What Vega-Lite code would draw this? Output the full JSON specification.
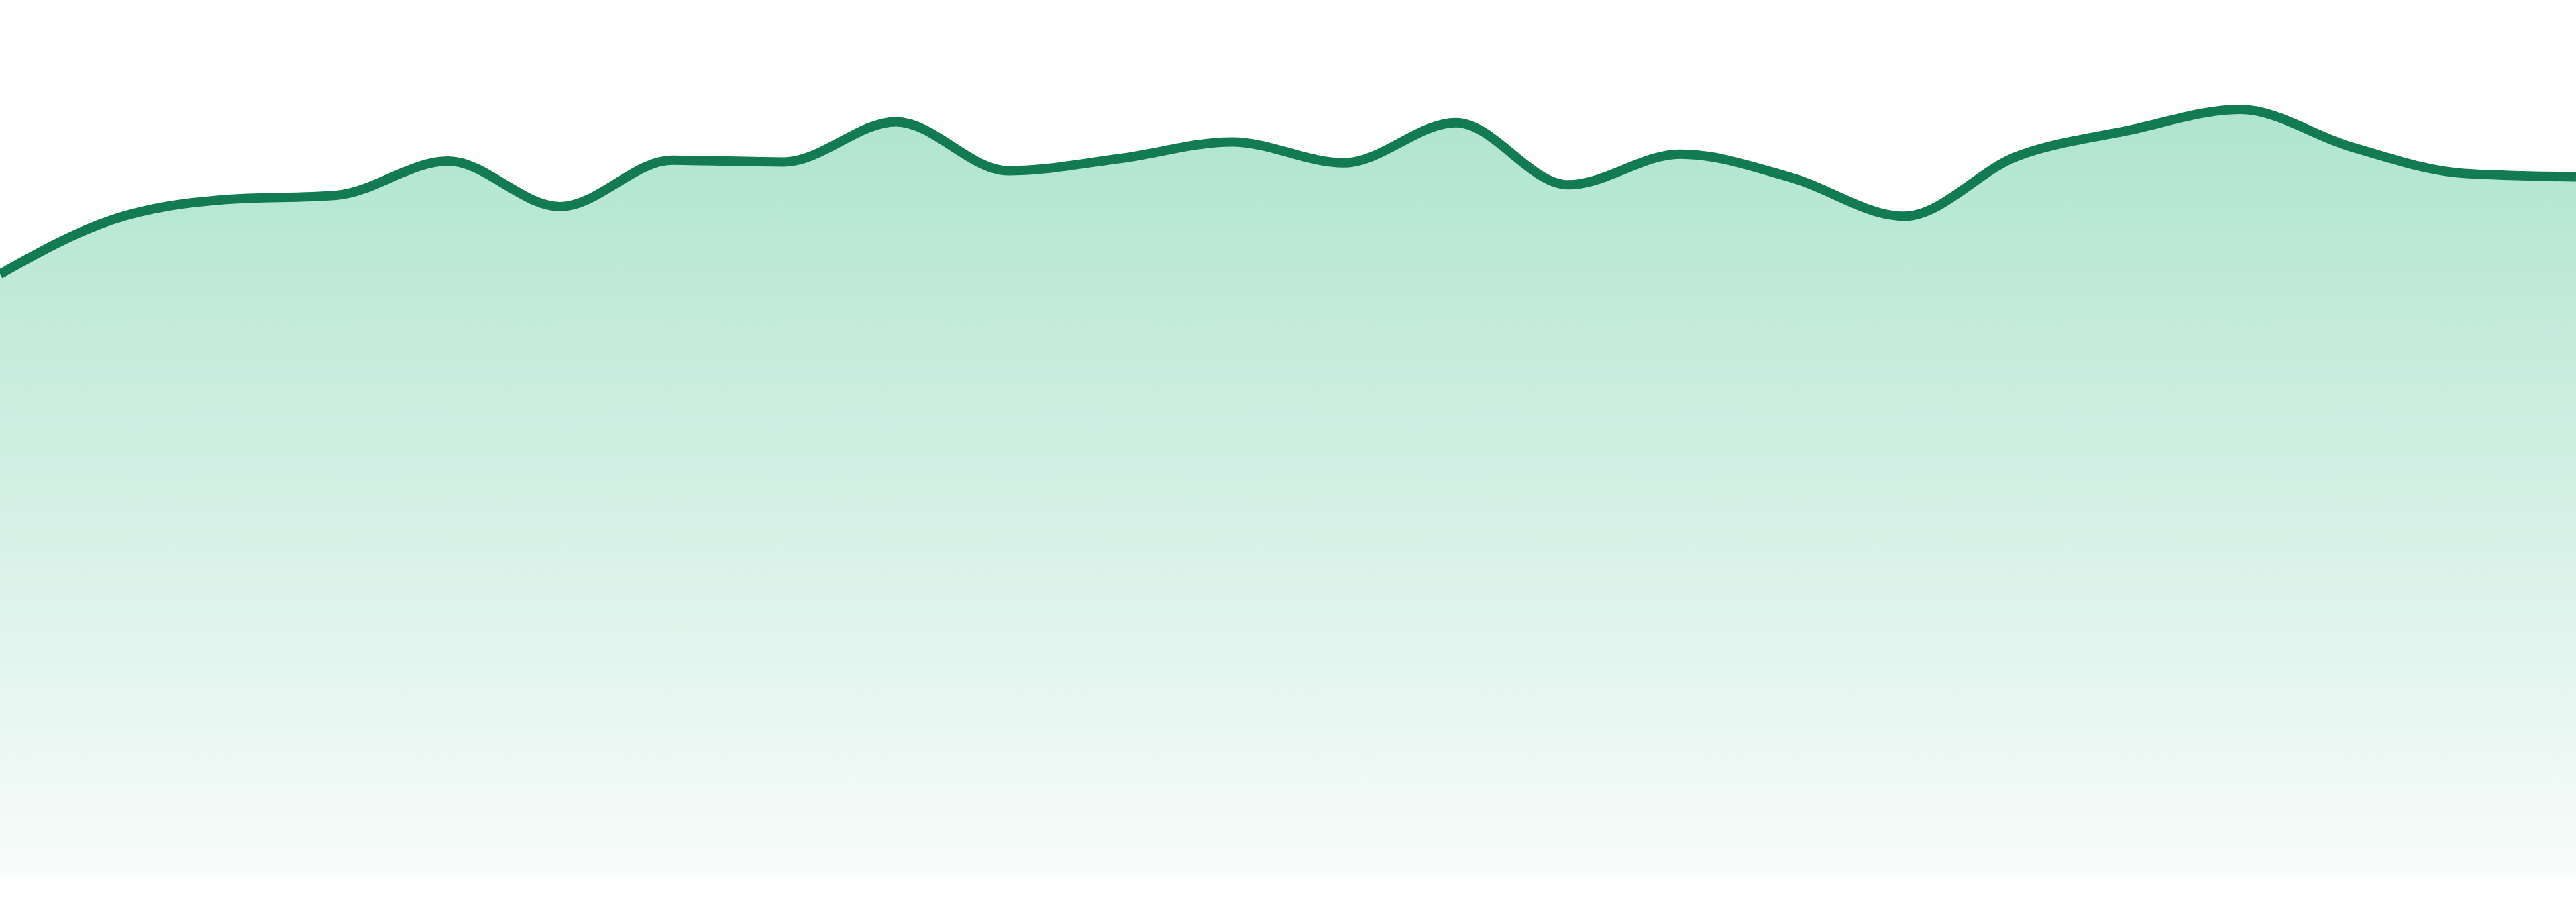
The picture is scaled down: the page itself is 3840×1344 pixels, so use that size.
{
  "$schema": "https://vega.github.io/schema/vega-lite/v6.json",
  "width": 3840,
  "height": 1344,
  "autosize": {"type": "none"},
  "padding": 0,
  "background": "#ffffff",
  "config": {"view": {"stroke": null}},
  "data": {
    "values": [
      {"t": 0, "value": 68.7},
      {"t": 1, "value": 74.9},
      {"t": 2, "value": 77.2},
      {"t": 3, "value": 77.7},
      {"t": 4, "value": 81.6},
      {"t": 5, "value": 76.4},
      {"t": 6, "value": 81.7},
      {"t": 7, "value": 81.5},
      {"t": 8, "value": 86.1},
      {"t": 9, "value": 80.5},
      {"t": 10, "value": 81.9},
      {"t": 11, "value": 83.8},
      {"t": 12, "value": 81.4},
      {"t": 13, "value": 86.0},
      {"t": 14, "value": 78.9},
      {"t": 15, "value": 82.4},
      {"t": 16, "value": 79.7},
      {"t": 17, "value": 75.3},
      {"t": 18, "value": 82.1},
      {"t": 19, "value": 85.1},
      {"t": 20, "value": 87.5},
      {"t": 21, "value": 83.2},
      {"t": 22, "value": 80.2},
      {"t": 23, "value": 79.8}
    ]
  },
  "encoding": {
    "x": {
      "field": "t",
      "type": "quantitative",
      "scale": {"domain": [0, 23], "nice": false, "zero": false},
      "axis": null
    },
    "y": {
      "field": "value",
      "type": "quantitative",
      "scale": {"domain": [-2.99, 100], "nice": false, "zero": false},
      "axis": null
    }
  },
  "layer": [
    {
      "mark": {
        "type": "area",
        "interpolate": "monotone",
        "clip": true,
        "color": {
          "gradient": "linear",
          "x1": 0, "y1": 0, "x2": 0, "y2": 1,
          "stops": [
            {"offset": 0, "color": "#afe4d0"},
            {"offset": 1, "color": "#f8fcfa"}
          ]
        }
      },
      "encoding": {"y2": {"datum": 0}}
    },
    {
      "mark": {
        "type": "line",
        "interpolate": "monotone",
        "clip": true,
        "color": "#137b51",
        "strokeWidth": 14
      }
    }
  ]
}
